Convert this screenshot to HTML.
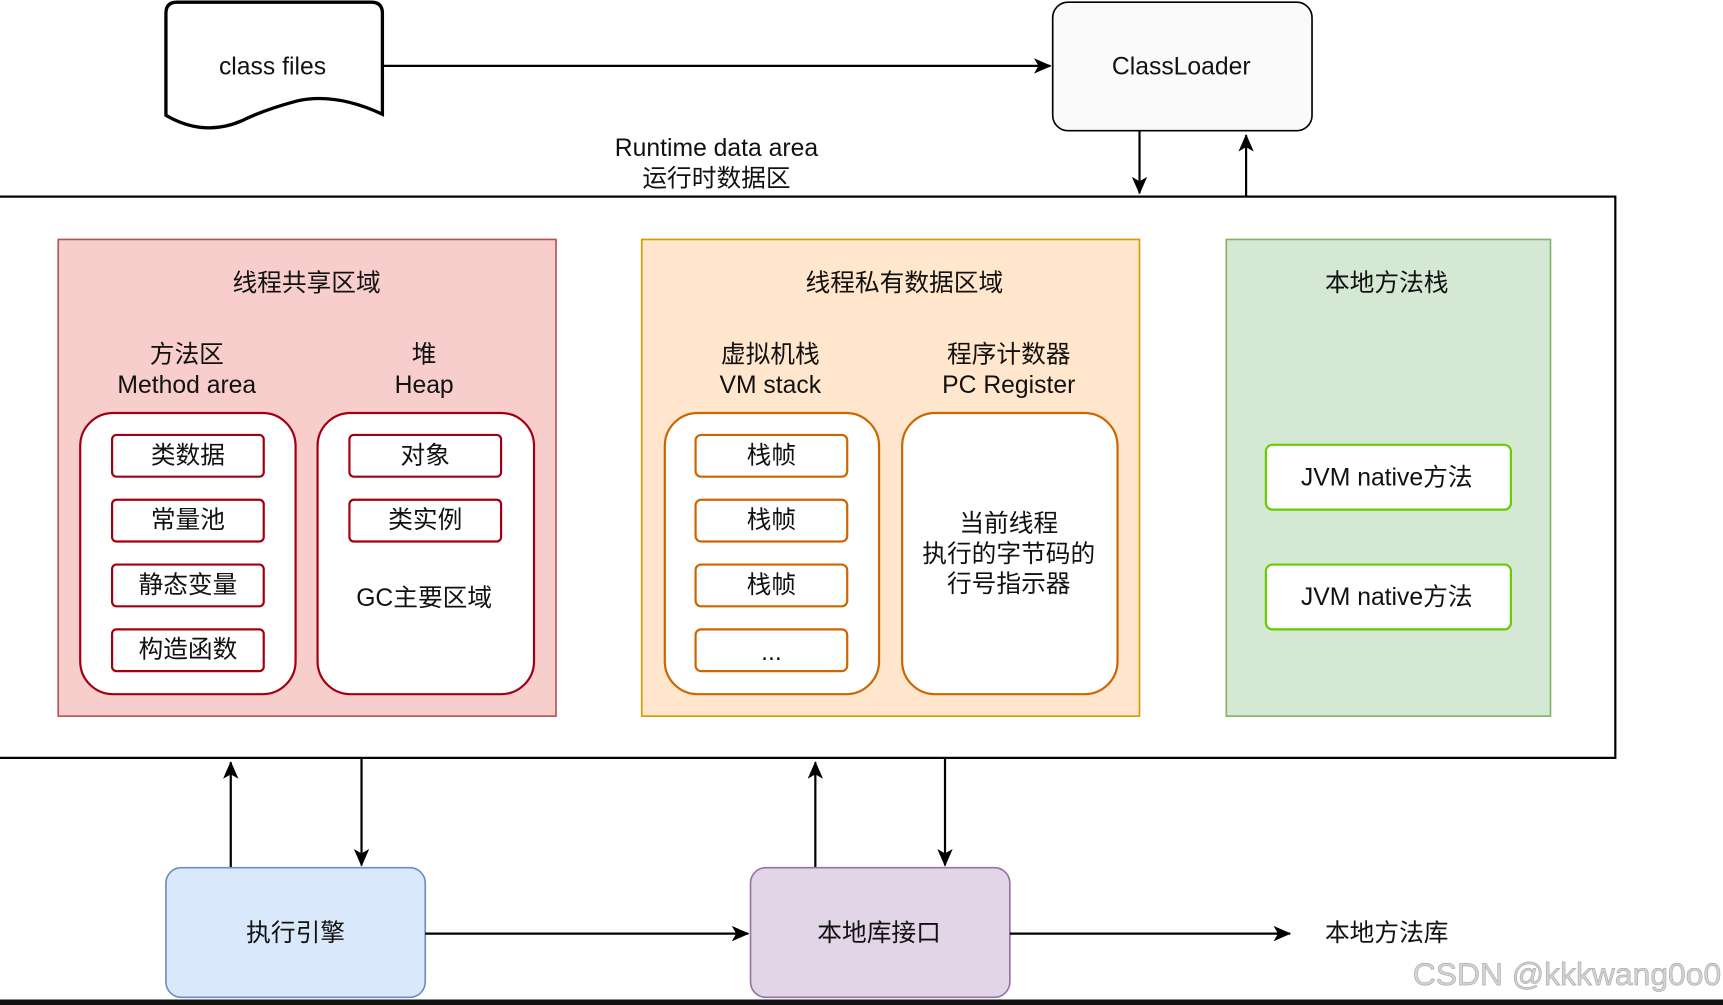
<!DOCTYPE html>
<html><head><meta charset="utf-8"><style>
html,body{margin:0;padding:0;background:#fff;}
svg{display:block;}
text{font-family:"Liberation Sans","Noto Sans CJK SC",sans-serif;font-size:22.5px;fill:#111;text-anchor:middle;dominant-baseline:central;}
</style></head><body>
<svg width="1723" height="1005" viewBox="0 0 1568 915" preserveAspectRatio="none" xmlns="http://www.w3.org/2000/svg">
<defs>
<marker id="a" markerWidth="16" markerHeight="14" refX="15" refY="7" orient="auto" markerUnits="userSpaceOnUse">
<path d="M0,0 L16,7 L0,14 L4,7 z" fill="#000"/></marker>
</defs>
<rect width="1568" height="915" fill="#fff"/>
<path d="M151,12 Q151,2 161,2 L338,2 Q348,2 348,12 L348,104 Q305,84 270,92 Q240,100 220,110 Q185,125 151,105 Z" fill="#fff" stroke="#000" stroke-width="3"/>
<text x="248" y="61">class files</text>
<line x1="349" y1="60" x2="956" y2="60" stroke="#000" stroke-width="2" marker-end="url(#a)"/>
<rect x="958" y="2" width="236" height="117" rx="14" fill="#fafafa" stroke="#000" stroke-width="1.5"/>
<text x="1075" y="61">ClassLoader</text>
<line x1="1037" y1="119" x2="1037" y2="176" stroke="#000" stroke-width="2" marker-end="url(#a)"/>
<line x1="1134" y1="178" x2="1134" y2="123" stroke="#000" stroke-width="2" marker-end="url(#a)"/>
<text x="652" y="135">Runtime data area</text>
<text x="652" y="163">运行时数据区</text>
<rect x="-2" y="179" width="1472" height="511" fill="#fff" stroke="#000" stroke-width="2"/>
<rect x="53" y="218" width="453" height="434" fill="#f8cecc" stroke="#b85450" stroke-width="1.5"/>
<text x="279" y="258">线程共享区域</text>
<text x="170" y="323">方法区</text><text x="170" y="351">Method area</text>
<text x="386" y="323">堆</text><text x="386" y="351">Heap</text>
<rect x="73" y="376" width="196" height="256" rx="30" fill="#fff" stroke="#a20010" stroke-width="2"/>
<rect x="289" y="376" width="197" height="256" rx="30" fill="#fff" stroke="#a20010" stroke-width="2"/>
<g fill="#fff" stroke="#a20010" stroke-width="2">
<rect x="102" y="396" width="138" height="38" rx="4"/><rect x="102" y="455" width="138" height="38" rx="4"/>
<rect x="102" y="514" width="138" height="38" rx="4"/><rect x="102" y="573" width="138" height="38" rx="4"/>
<rect x="318" y="396" width="138" height="38" rx="4"/><rect x="318" y="455" width="138" height="38" rx="4"/>
</g>
<text x="171" y="415">类数据</text><text x="171" y="474">常量池</text><text x="171" y="533">静态变量</text><text x="171" y="592">构造函数</text>
<text x="387" y="415">对象</text><text x="387" y="474">类实例</text><text x="386" y="545">GC主要区域</text>
<rect x="584" y="218" width="453" height="434" fill="#ffe6cc" stroke="#d79b00" stroke-width="1.5"/>
<text x="823" y="258">线程私有数据区域</text>
<text x="701" y="323">虚拟机栈</text><text x="701" y="351">VM stack</text>
<text x="918" y="323">程序计数器</text><text x="918" y="351">PC Register</text>
<rect x="605" y="376" width="195" height="256" rx="30" fill="#fff" stroke="#cc6600" stroke-width="2"/>
<rect x="821" y="376" width="196" height="256" rx="30" fill="#fff" stroke="#cc6600" stroke-width="2"/>
<g fill="#fff" stroke="#cc6600" stroke-width="2">
<rect x="633" y="396" width="138" height="38" rx="5"/><rect x="633" y="455" width="138" height="38" rx="5"/>
<rect x="633" y="514" width="138" height="38" rx="5"/><rect x="633" y="573" width="138" height="38" rx="5"/>
</g>
<text x="702" y="415">栈帧</text><text x="702" y="474">栈帧</text><text x="702" y="533">栈帧</text><text x="702" y="594">...</text>
<text x="918" y="477">当前线程</text><text x="918" y="505">执行的字节码的</text><text x="918" y="532">行号指示器</text>
<rect x="1116" y="218" width="295" height="434" fill="#d5e8d4" stroke="#82b366" stroke-width="1.5"/>
<text x="1262" y="258">本地方法栈</text>
<rect x="1152" y="405" width="223" height="59" rx="6" fill="#fff" stroke="#66cc00" stroke-width="2"/>
<rect x="1152" y="514" width="223" height="59" rx="6" fill="#fff" stroke="#66cc00" stroke-width="2"/>
<text x="1262" y="435">JVM native方法</text><text x="1262" y="544">JVM native方法</text>
<line x1="210" y1="790" x2="210" y2="694" stroke="#000" stroke-width="2" marker-end="url(#a)"/>
<line x1="329" y1="691" x2="329" y2="788" stroke="#000" stroke-width="2" marker-end="url(#a)"/>
<line x1="742" y1="790" x2="742" y2="694" stroke="#000" stroke-width="2" marker-end="url(#a)"/>
<line x1="860" y1="691" x2="860" y2="788" stroke="#000" stroke-width="2" marker-end="url(#a)"/>
<rect x="151" y="790" width="236" height="118" rx="14" fill="#dae8fc" stroke="#6c8ebf" stroke-width="1.5"/>
<text x="269" y="850">执行引擎</text>
<rect x="683" y="790" width="236" height="118" rx="14" fill="#e1d5e7" stroke="#9673a6" stroke-width="1.5"/>
<text x="800" y="850">本地库接口</text>
<line x1="387" y1="850" x2="681" y2="850" stroke="#000" stroke-width="2" marker-end="url(#a)"/>
<line x1="919" y1="850" x2="1174" y2="850" stroke="#000" stroke-width="2" marker-end="url(#a)"/>
<text x="1262" y="850">本地方法库</text>
<text x="1426" y="887" style="font-size:29px;fill:#d4d4d4;stroke:#aaa;stroke-width:0.6">CSDN @kkkwang0o0</text>
<rect x="0" y="910" width="1568" height="5" fill="#111"/>
</svg>
</body></html>
